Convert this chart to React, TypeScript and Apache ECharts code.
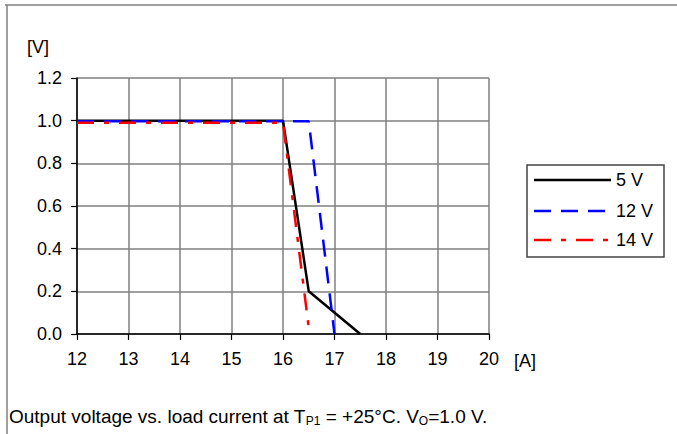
import React, { useEffect, useRef } from "react";
import * as echarts from "echarts";

const xTicks = [12, 13, 14, 15, 16, 17, 18, 19, 20];
const yTicks = [0.0, 0.2, 0.4, 0.6, 0.8, 1.0, 1.2];

const seriesNames = ["5 V", "12 V", "14 V"];
const current5 = [12, 16.0, 16.5, 17.5];
const voltage5 = [1.0, 1.0, 0.2, 0.0];
const current12 = [12, 16.5, 17.0];
const voltage12 = [0.997, 0.997, 0.0];
const current14 = [12, 16.0, 16.5];
const voltage14 = [0.99, 0.99, 0.03];

const FONT = "Liberation Sans, Arial, sans-serif";
const FS = 18;

export default function App() {
  const ref = useRef<HTMLDivElement>(null);
  useEffect(() => {
    if (!ref.current) return;
    const chart = echarts.init(ref.current, undefined, { renderer: "svg" });
    const pair = (xs: number[], ys: number[]) => xs.map((x, i) => [x, ys[i]]);
    const legendRows = [
      { y: 180, color: "#000000", dash: null as number[] | null },
      { y: 211, color: "#0000ff", dash: [17, 10] },
      { y: 240, color: "#ff0000", dash: [17, 10, 5, 10] },
    ];
    const graphics: any[] = [
      { type: "line", shape: { x1: 5, y1: 5, x2: 677, y2: 5 }, style: { stroke: "#808080", lineWidth: 1.5 } },
      { type: "line", shape: { x1: 7, y1: 5, x2: 7, y2: 434 }, style: { stroke: "#808080", lineWidth: 1.5 } },
      { type: "rect", shape: { x: 527, y: 165, width: 137, height: 92 }, style: { fill: "#fff", stroke: "#444", lineWidth: 1.5 } },
      { type: "text", x: 38, y: 47, style: { text: "[V]", font: `${FS}px ${FONT}`, fill: "#000", align: "center", verticalAlign: "middle" } },
      { type: "text", x: 525, y: 361, style: { text: "[A]", font: `${FS}px ${FONT}`, fill: "#000", align: "center", verticalAlign: "middle" } },
      {
        type: "text",
        x: 9,
        y: 416,
        style: {
          text: "{m|Output voltage vs. load current at T}{s|P1}{m| = +25°C. V}{s|O}{m|=1.0 V.}",
          verticalAlign: "middle",
          rich: {
            m: { fontSize: 19, fontFamily: FONT, fill: "#000", lineHeight: 22, verticalAlign: "middle" },
            s: { fontSize: 12, fontFamily: FONT, fill: "#000", lineHeight: 14, verticalAlign: "bottom" },
          },
        },
      },
    ];
    legendRows.forEach((r, i) => {
      graphics.push({
        type: "line",
        shape: { x1: 534, y1: r.y, x2: 611, y2: r.y },
        style: { stroke: r.color, lineWidth: 2.5, lineDash: r.dash || undefined },
      });
      graphics.push({
        type: "text",
        x: 616,
        y: r.y,
        style: { text: seriesNames[i], font: `${FS}px ${FONT}`, fill: "#000", verticalAlign: "middle" },
      });
    });

    chart.setOption({
      animation: false,
      backgroundColor: "#ffffff",
      grid: { left: 77, right: 188, top: 78, bottom: 100, containLabel: false },
      xAxis: {
        type: "value",
        min: xTicks[0],
        max: xTicks[xTicks.length - 1],
        interval: 1,
        axisLine: { onZero: false, lineStyle: { color: "#000", width: 1.5 } },
        axisTick: { show: true, length: 6, lineStyle: { color: "#000", width: 1.2 } },
        axisLabel: { margin: 16, fontSize: FS, fontFamily: FONT, color: "#000" },
        splitLine: { show: true, lineStyle: { color: "#808080", width: 1.5 } },
      },
      yAxis: {
        type: "value",
        min: yTicks[0],
        max: yTicks[yTicks.length - 1],
        interval: 0.2,
        axisLine: { show: true, lineStyle: { color: "#000", width: 1.5 } },
        axisTick: { show: true, length: 6, lineStyle: { color: "#000", width: 1.2 } },
        axisLabel: { margin: 15, fontSize: FS, fontFamily: FONT, color: "#000", formatter: (v: number) => v.toFixed(1) },
        splitLine: { show: true, lineStyle: { color: "#808080", width: 1.5 } },
      },
      series: [
        { name: seriesNames[0], type: "line", data: pair(current5, voltage5), symbol: "none", lineStyle: { color: "#000", width: 2.5 }, z: 3 },
        { name: seriesNames[1], type: "line", data: pair(current12, voltage12), symbol: "none", lineStyle: { color: "#0000ff", width: 2.5, type: [17, 10] }, z: 4 },
        { name: seriesNames[2], type: "line", data: pair(current14, voltage14), symbol: "none", lineStyle: { color: "#ff0000", width: 2.5, type: [17, 10, 5, 10] }, z: 5 },
      ],
      graphic: graphics,
    });
    return () => chart.dispose();
  }, []);
  return <div ref={ref} style={{ position: "fixed", left: 0, top: 0, width: 677, height: 434 }} />;
}
